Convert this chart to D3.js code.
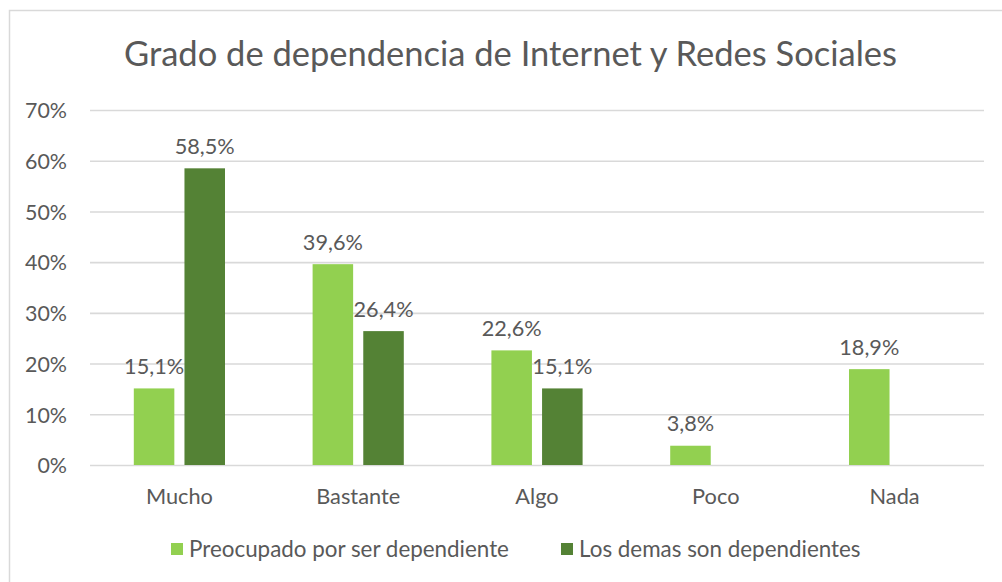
<!DOCTYPE html>
<html>
<head>
<meta charset="utf-8">
<script src="https://cdn.jsdelivr.net/npm/d3@7"></script>
<style>
  html, body { margin: 0; padding: 0; background: #fff; }
  svg { display: block; }
  text { font-family: Lato, "Open Sans", sans-serif; fill: #595959; }
</style>
</head>
<body>
<svg id="chart" width="1002" height="582"></svg>
<script>
const title = "Grado de dependencia de Internet y Redes Sociales";
const categories = ["Mucho", "Bastante", "Algo", "Poco", "Nada"];
const seriesNames = ["Preocupado por ser dependiente", "Los demas son dependientes"];
const preocupado = [15.1, 39.6, 22.6, 3.8, 18.9];
const demas = [58.5, 26.4, 15.1, null, null];
const yTicks = [0, 10, 20, 30, 40, 50, 60, 70];
const colors = ["#92D050", "#548235"];

const svg = d3.select("#chart");
const W = 1002, H = 582;
const plot = { left: 90, right: 984, top: 110, bottom: 465 };

// chart frame
svg.append("rect")
  .attr("x", 9.5).attr("y", 10.5)
  .attr("width", W + 20).attr("height", H + 20)
  .attr("fill", "#fff").attr("stroke", "#d9d9d9").attr("stroke-width", 1.5);

function fit(sel, target) {
  let fs = parseFloat(sel.attr("font-size"));
  for (let i = 0; i < 4; i++) {
    const w = sel.node().getComputedTextLength();
    if (w > 0) { fs = fs * target / w; sel.attr("font-size", fs); }
  }
  return fs;
}

// title
const t = svg.append("text")
  .attr("x", 510.5).attr("y", 66)
  .attr("text-anchor", "middle")
  .attr("font-size", 28)
  .attr("font-weight", 400)
  .text(title);
fit(t, 773);

const y = d3.scaleLinear().domain([0, 70]).range([plot.bottom, plot.top]);
const x0 = d3.scaleBand().domain(categories).range([plot.left, plot.right])
  .paddingInner(0.49).paddingOuter(0.245);
const x1 = d3.scaleBand().domain([0, 1]).range([0, x0.bandwidth()]).paddingInner(0.2);

// gridlines
const grid = svg.append("g").attr("transform", `translate(${plot.left},0)`)
  .call(d3.axisLeft(y).tickValues(yTicks).tickSize(-(plot.right - plot.left)).tickFormat(""));
grid.select(".domain").remove();
grid.selectAll("line").attr("stroke", "#d9d9d9").attr("stroke-width", 1.6);

// y axis labels
const yAxis = svg.append("g").attr("transform", `translate(${plot.left},0)`)
  .call(d3.axisLeft(y).tickValues(yTicks).tickSize(0).tickPadding(23).tickFormat(d => d + "%"));
yAxis.select(".domain").remove();
yAxis.selectAll("text")
  .attr("font-family", "Lato, sans-serif").attr("fill", "#595959")
  .attr("font-size", 18).attr("dy", "0.36em");
const yfs = fit(yAxis.selectAll("text").filter(d => d === 70), 42);
yAxis.selectAll("text").attr("font-size", yfs);

// bars
const data = categories.map((c, i) => ({ cat: c, vals: [preocupado[i], demas[i]] }));
const groups = svg.append("g").selectAll("g").data(data).join("g")
  .attr("transform", d => `translate(${x0(d.cat)},0)`);

groups.selectAll("rect")
  .data(d => d.vals.map((v, k) => ({ v, k })).filter(e => e.v != null))
  .join("rect")
  .attr("x", e => x1(e.k))
  .attr("width", x1.bandwidth())
  .attr("y", e => y(e.v))
  .attr("height", e => y(0) - y(e.v))
  .attr("fill", e => colors[e.k]);

// data labels
const fmt = v => v.toFixed(1).replace(".", ",") + "%";
const labels = groups.selectAll("text")
  .data(d => d.vals.map((v, k) => ({ v, k })).filter(e => e.v != null))
  .join("text")
  .attr("x", e => x1(e.k) + x1.bandwidth() / 2)
  .attr("y", e => y(e.v) - 14.5)
  .attr("text-anchor", "middle")
  .attr("font-size", 19)
  .text(e => fmt(e.v));
const lfs = fit(labels.filter(e => e.v === 58.5), 60);
labels.attr("font-size", lfs);

// category labels
const cats = svg.append("g").selectAll("text").data(categories).join("text")
  .attr("x", d => x0(d) + x0.bandwidth() / 2)
  .attr("y", 504)
  .attr("text-anchor", "middle")
  .attr("font-size", 20)
  .text(d => d);
const cfs = fit(cats.filter(d => d === "Mucho"), 67);
cats.attr("font-size", cfs);

// legend
const legX = [171, 561];
const leg = svg.append("g").selectAll("g").data(seriesNames).join("g")
  .attr("transform", (d, i) => `translate(${legX[i]},0)`);
leg.append("rect").attr("x", 0).attr("y", 543).attr("width", 12).attr("height", 12)
  .attr("fill", (d, i) => colors[i]);
const legText = leg.append("text").attr("x", 18).attr("y", 556.5)
  .attr("font-size", 20).text(d => d);
const gfs = fit(legText.filter((d, i) => i === 0), 320);
legText.attr("font-size", gfs);
</script>
</body>
</html>
